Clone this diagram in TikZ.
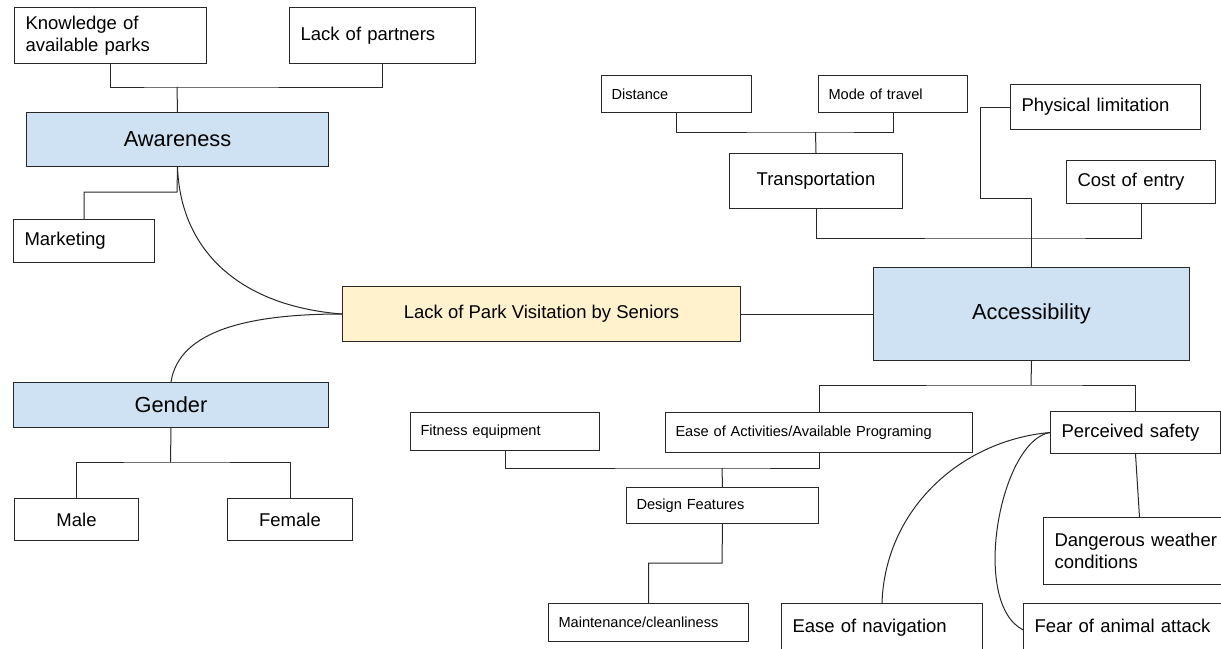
\documentclass[tikz,border=0pt]{standalone}
\usepackage{fontspec}
\setmainfont{Liberation Sans}
\usetikzlibrary{positioning}
\definecolor{boxblue}{RGB}{207,226,243}
\definecolor{boxyellow}{RGB}{255,242,204}
\definecolor{edge}{RGB}{40,40,40}
\tikzstyle{leaf} = [
    rectangle, 
    draw=edge, 
    line width=1pt, 
    fill=white, 
    anchor=north west, 
    align=left, 
    inner xsep=11pt, % text starts ~12px in
    font=\fontsize{18.5}{22.5}\selectfont
]
\tikzstyle{small_leaf} = [
    leaf, 
    inner xsep=10pt, 
    font=\fontsize{14.6}{17.5}\selectfont
]
\tikzstyle{open_leaf} = [
    leaf, 
    inner ysep=4pt, 
    text height=25pt, 
    text depth=40pt % runs off the page bottom
]
\tikzstyle{mid_leaf} = [
    leaf, 
    align=center
]
\tikzstyle{blue_node} = [
    leaf, 
    fill=boxblue, 
    align=center, 
    font=\fontsize{21.8}{26}\selectfont
]
\tikzstyle{yellow_node} = [
    leaf, 
    fill=boxyellow, 
    align=center
]
\tikzstyle{link} = [
    draw=edge, 
    line width=1pt
]
\begin{document}
\begin{tikzpicture}[x=1pt, y=-1pt]
\clip (0,0) rectangle (1221,648);
\fill[white] (0,0) rectangle (1221,648);

% left half
\node [leaf, text width=170pt, minimum height=56pt] (know) at (14,7) {Knowledge of\\available parks};
\node [leaf, text width=164pt, minimum height=56pt] (partners) at (289,7) {Lack of partners};
\node [blue_node, minimum width=302pt, minimum height=54pt] (aware) at (26,112) {Awareness};
\node [leaf, text width=119pt, minimum height=43pt] (market) at (13,219) {Marketing};
\node [blue_node, minimum width=315pt, minimum height=45pt] (gender) at (13,382) {Gender};
\node [mid_leaf, minimum width=124pt, minimum height=42pt] (male) at (14,498) {Male};
\node [mid_leaf, minimum width=125pt, minimum height=42pt] (female) at (227,498) {Female};
\node [yellow_node, minimum width=398pt, minimum height=55pt] (core) at (342,286) {Lack of Park Visitation by Seniors};

% right half
\node [small_leaf, text width=130pt, minimum height=37pt] (dist) at (601,75) {Distance};
\node [small_leaf, text width=129pt, minimum height=37pt] (mode) at (818,75) {Mode of travel};
\node [mid_leaf, minimum width=173pt, minimum height=55pt] (trans) at (729,153) {Transportation};
\node [leaf, text width=168pt, minimum height=45pt] (phys) at (1010,84) {Physical limitation};
\node [leaf, text width=127pt, minimum height=43pt] (cost) at (1066,160) {Cost of entry};
\node [blue_node, minimum width=316pt, minimum height=93pt] (access) at (873,267) {Accessibility};
\node [small_leaf, text width=169pt, minimum height=38pt] (fit) at (410,412) {Fitness equipment};
\node [small_leaf, text width=287pt, minimum height=40pt] (ease) at (665,412) {Ease of Activities/Available Programing};
\node [small_leaf, text width=172pt, minimum height=36pt] (design) at (626,487) {Design Features};
\node [small_leaf, text width=180pt, minimum height=38pt] (maint) at (548,603) {Maintenance/cleanliness};
\node [open_leaf, text width=179pt] (nav) at (781,603) {Ease of navigation};
\node [leaf, text width=148pt, minimum height=42pt] (safety) at (1050,411) {Perceived safety};
\node [leaf, text width=170pt, minimum height=67pt] (danger) at (1043,517) {Dangerous weather\\conditions};
\node [open_leaf, text width=198pt] (fear) at (1023,603) {Fear of animal attack};

% awareness branch
\coordinate (know_join) at (177,87);
\draw [link] (know.south) |- (know_join) -| (partners.south);
\draw [link] (know_join) -- (aware.north);
\coordinate (market_join) at (177,192);
\draw [link] (aware.south) -- (market_join) -| (market.north);
\draw [link] (aware.south) .. controls +(3,84) and +(-102,-8) .. (core.west);

% gender branch
\draw [link] (gender.north) .. controls +(8,-52) and +(-92,0) .. (core.west);
\coordinate (gender_join) at (170.5,462);
\draw [link] (gender.south) -- (gender_join);
\draw [link] (male.north) |- (gender_join) -| (female.north);

% accessibility branch
\draw [link] (core.east) -- (access.west);
\coordinate (trans_join) at (815.5,132);
\draw [link] (dist.south) |- (trans_join) -| (mode.south);
\draw [link] (trans_join) -- (trans.north);
\coordinate (access_join) at (1031,238);
\draw [link] (trans.south) |- (access_join) -| (cost.south);
\coordinate (phys_bend) at (980,198);
\draw [link] (phys.west) -| (phys_bend) -| (access.north);
\coordinate (lower_join) at (1031,385);
\draw [link] (access.south) -- (lower_join);
\draw [link] (ease.north) |- (lower_join) -| (safety.north);
\coordinate (design_join) at (722,468);
\draw [link] (fit.south) |- (design_join) -| (ease.south);
\draw [link] (design_join) -- (design.north);
\coordinate (maint_bend) at (722,563);
\draw [link] (design.south) -- (maint_bend) -| (maint.north);
\draw [link] (safety.south) -- (danger.north);
\draw [link] (nav.north) .. controls +(3,-93) and +(-90,8) .. (safety.west);
\draw [link] (safety.west) .. controls +(-50,8) and +(-53,-27) .. (fear.mid west);
\end{tikzpicture}
\end{document}
